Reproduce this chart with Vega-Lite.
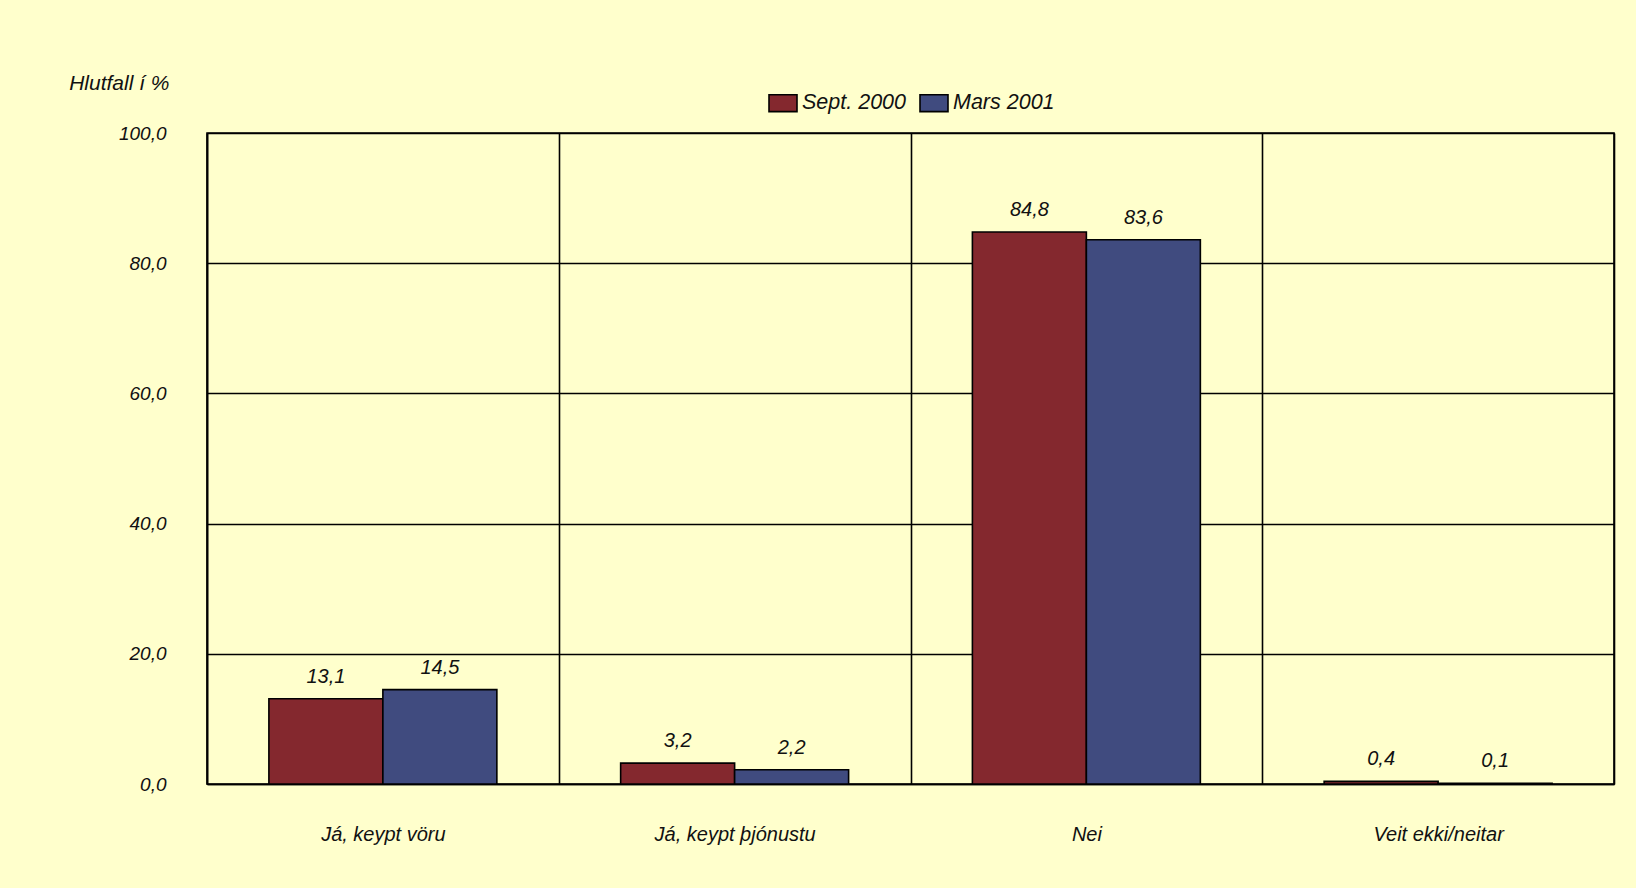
{
  "$schema": "https://vega.github.io/schema/vega-lite/v6.json",
  "autosize": {"type": "none"},
  "width": 1407,
  "height": 651,
  "padding": {"left": 207, "top": 133, "right": 22, "bottom": 104},
  "background": "#FFFFCC",
  "config": {
    "locale": {"number": {"decimal": ",", "thousands": ".", "grouping": [3], "currency": ["", " kr"]}},
    "view": {"stroke": "#000000", "strokeWidth": 1.6},
    "font": "Liberation Sans Narrow, Arial Narrow, Liberation Sans, sans-serif"
  },
  "data": {
    "values": [
      {"flokkur": "Já, keypt vöru", "tímabil": "Sept. 2000", "hlutfall": 13.1},
      {"flokkur": "Já, keypt vöru", "tímabil": "Mars 2001", "hlutfall": 14.5},
      {"flokkur": "Já, keypt þjónustu", "tímabil": "Sept. 2000", "hlutfall": 3.2},
      {"flokkur": "Já, keypt þjónustu", "tímabil": "Mars 2001", "hlutfall": 2.2},
      {"flokkur": "Nei", "tímabil": "Sept. 2000", "hlutfall": 84.8},
      {"flokkur": "Nei", "tímabil": "Mars 2001", "hlutfall": 83.6},
      {"flokkur": "Veit ekki/neitar", "tímabil": "Sept. 2000", "hlutfall": 0.4},
      {"flokkur": "Veit ekki/neitar", "tímabil": "Mars 2001", "hlutfall": 0.1}
    ]
  },
  "encoding": {
    "x": {
      "field": "flokkur", "type": "nominal", "sort": null,
      "scale": {"paddingInner": 0, "paddingOuter": 0},
      "axis": {
        "title": null, "labelAngle": 0, "grid": true, "tickBand": "extent",
        "gridColor": "#000000", "gridWidth": 1.6, "gridOpacity": 1,
        "domainColor": "#000000", "domainWidth": 1.6,
        "ticks": false, "labelPadding": 40,
        "labelFontSize": 20, "labelFontStyle": "italic", "labelColor": "#111111"
      }
    },
    "xOffset": {
      "field": "tímabil", "type": "nominal", "sort": ["Sept. 2000", "Mars 2001"],
      "scale": {"paddingInner": 0, "paddingOuter": 0.543}
    },
    "y": {
      "field": "hlutfall", "type": "quantitative",
      "scale": {"domain": [0, 100], "nice": false},
      "axis": {
        "title": "Hlutfall í %", "titleAngle": 0, "titleAlign": "right", "titleBaseline": "middle",
        "titleX": -38, "titleY": -50, "titleFontSize": 21, "titleFontStyle": "italic", "titleFontWeight": "normal", "titleColor": "#111111",
        "values": [0, 20, 40, 60, 80, 100], "format": ".1f",
        "grid": true, "gridColor": "#000000", "gridWidth": 1.6, "gridOpacity": 1,
        "domainColor": "#000000", "domainWidth": 1.6,
        "ticks": false, "labelPadding": 41,
        "labelFontSize": 19, "labelFontStyle": "italic", "labelColor": "#111111"
      }
    }
  },
  "layer": [
    {
      "mark": {"type": "bar", "stroke": "#000000", "strokeWidth": 1.6},
      "encoding": {
        "color": {
          "field": "tímabil", "type": "nominal", "sort": ["Sept. 2000", "Mars 2001"],
          "scale": {"domain": ["Sept. 2000", "Mars 2001"], "range": ["#84282E", "#404B7F"]},
          "legend": {
            "title": null, "orient": "none", "direction": "horizontal",
            "legendX": 561, "legendY": -45,
            "symbolType": "M-1,-0.6H1V0.6H-1Z", "symbolSize": 784, "symbolStrokeColor": "#000000", "symbolStrokeWidth": 1.6,
            "labelFontSize": 21.5, "labelFontStyle": "italic", "labelColor": "#111111",
            "columnPadding": 9, "labelOffset": 4
          }
        }
      }
    },
    {
      "mark": {"type": "text", "baseline": "bottom", "dy": -12, "fontSize": 20, "fontStyle": "italic", "color": "#111111"},
      "encoding": {
        "text": {"field": "hlutfall", "type": "quantitative", "format": ".1f"}
      }
    }
  ]
}
